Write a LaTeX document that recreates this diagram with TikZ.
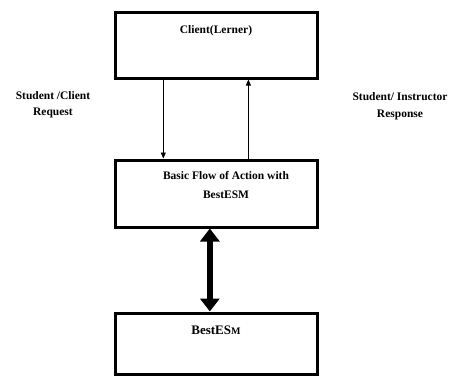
\documentclass[tikz,border=0pt]{standalone}
\usepackage{fontspec}
\setmainfont{Liberation Serif}
\usepackage{tikz}
\usetikzlibrary{arrows.meta, positioning, calc}

\begin{document}
\begin{tikzpicture}[x=1pt, y=-1pt,
    box/.style={draw, line width=3pt, minimum width=202pt, inner sep=0pt},
    txt/.style={font=\bfseries\fontsize{11.5}{16}\selectfont, align=center, inner sep=0pt},
    thin/.style={line width=0.8pt, -{Triangle[length=6pt, width=5pt]}},
    fat/.style={line width=6pt, {Triangle[length=13pt, width=19pt]}-{Triangle[length=13pt, width=19pt]}}]
  \useasboundingbox (0,0) rectangle (453,378);
  % the three boxes
  \node[box, minimum height=66pt] (client) at (216,45) {};
  \node[box, minimum height=67pt] (flow) at (216,193.5) {};
  \node[box, minimum height=61pt] (best) at (216,343.5) {};
  % texts in the boxes
  \node[txt, below=15pt of client.north] (clienttxt) {Client(Lerner)};
  \node[txt, below=13pt of flow.north, xshift=10pt, font=\bfseries\fontsize{11.5}{19}\selectfont] (flowtxt) {Basic Flow of Action with\\BestESM};
  \node[txt, below=14pt of best.north, font=\bfseries\fontsize{13}{14}\selectfont] (besttxt) {BestES{\fontsize{10}{10}\selectfont M}};
  % request / response
  \draw[thin] ($(client.south west)!0.243!(client.south east)$) -- ($(flow.north west)!0.243!(flow.north east)$);
  \draw[thin] ($(flow.north west)!0.658!(flow.north east)$) -- ($(client.south west)!0.658!(client.south east)$);
  \node[txt] (req) at (53,105) {Student /Client\\Request};
  \node[txt, font=\bfseries\fontsize{11.5}{17}\selectfont] (resp) at (400,106.5) {Student/ Instructor\\Response};
  % two-way link
  \draw[fat] ($(flow.south west)!0.47!(flow.south east)$) -- ($(best.north west)!0.47!(best.north east)$);
\end{tikzpicture}
\end{document}
